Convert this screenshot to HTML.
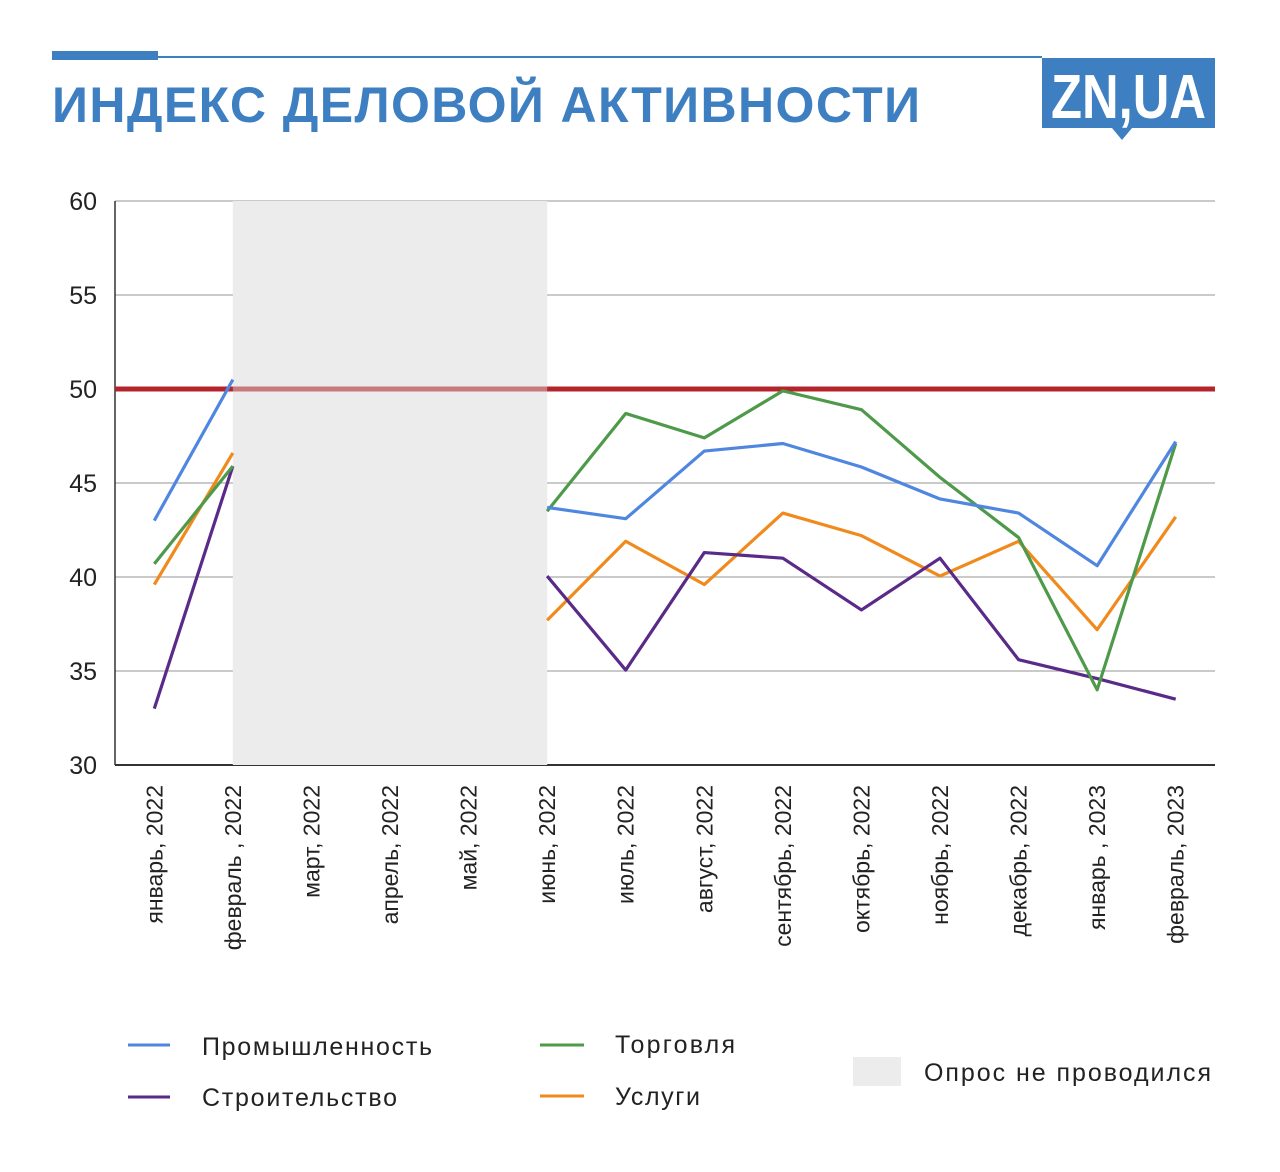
<!DOCTYPE html>
<html><head><meta charset="utf-8"><style>
body{margin:0;background:#fff;font-family:"Liberation Sans","DejaVu Sans",sans-serif}
svg text{font-family:"Liberation Sans","DejaVu Sans",sans-serif}
</style></head><body>
<svg id="c" width="1280" height="1167" xmlns="http://www.w3.org/2000/svg">
<rect x="52" y="51" width="106" height="9" fill="#3d7fc1"/>
<rect x="52" y="56" width="990" height="2" fill="#3d7fc1"/>
<text x="52" y="122" font-size="50" font-weight="bold" fill="#3d7fc1" textLength="868">ИНДЕКС ДЕЛОВОЙ АКТИВНОСТИ</text>
<g>
<rect x="1042" y="58" width="173" height="70" fill="#3d7fc1"/>
<polygon points="1112,128 1132,128 1122,140" fill="#3d7fc1"/>
<text x="1051" y="118" font-size="62" font-weight="bold" fill="#fff" textLength="155" lengthAdjust="spacingAndGlyphs">ZN,UA</text>
</g>
<g id="plot"></g>
<g>
<line x1="128" y1="1045" x2="170" y2="1045" stroke="#4f86e0" stroke-width="3"/><text x="202" y="1055" font-size="25" fill="#222" textLength="230">Промышленность</text>
<line x1="128" y1="1097" x2="170" y2="1097" stroke="#5a2a88" stroke-width="3"/><text x="202" y="1106" font-size="25" fill="#222" textLength="195">Строительство</text>
<line x1="540" y1="1045" x2="584" y2="1045" stroke="#4e9a4a" stroke-width="3"/><text x="615" y="1053" font-size="25" fill="#222" textLength="120">Торговля</text>
<line x1="540" y1="1096" x2="584" y2="1096" stroke="#f08a1c" stroke-width="3"/><text x="615" y="1105" font-size="25" fill="#222" textLength="85">Услуги</text>
<rect x="853" y="1057" width="48" height="29" fill="#ececec"/><text x="924" y="1081" font-size="25" fill="#222" textLength="287">Опрос не проводился</text>
</g>
</svg>
<script>
const categories=["январь, 2022","февраль , 2022","март, 2022","апрель, 2022","май, 2022","июнь, 2022","июль, 2022","август, 2022","сентябрь, 2022","октябрь, 2022","ноябрь, 2022","декабрь, 2022","январь , 2023","февраль, 2023"];
const industry=[43.0,50.5,null,null,null,43.7,43.1,46.7,47.1,45.85,44.15,43.4,40.6,47.2];
const trade=[40.7,45.9,null,null,null,43.5,48.7,47.4,49.9,48.9,45.3,42.1,34.0,47.1];
const construction=[33.0,45.9,null,null,null,40.05,35.05,41.3,41.0,38.25,41.0,35.6,34.6,33.5];
const services=[39.6,46.6,null,null,null,37.7,41.9,39.6,43.4,42.2,40.05,41.9,37.2,43.2];
const yTicks=[30,35,40,45,50,55,60];
const threshold=50;
const noSurveyFrom=1, noSurveyTo=5;
const L=115,R=1215,T=201,B=765,ymin=30,ymax=60;
const x=i=>L+(R-L)/categories.length*(i+0.5);
const y=v=>B-(v-ymin)/(ymax-ymin)*(B-T);
const NS="http://www.w3.org/2000/svg",g=document.getElementById('plot');
function mk(t,a){const e=document.createElementNS(NS,t);for(const k in a)e.setAttribute(k,a[k]);g.appendChild(e);return e;}
yTicks.forEach(v=>{
 const l=mk('line',{x1:L,x2:R,y1:y(v),y2:y(v),stroke:v==ymin?'#333':'#aaa','stroke-width':v==ymin?2:1.3});
 
 
 const t=mk('text',{x:97,y:y(v)+9,'font-size':25,fill:'#222','text-anchor':'end'});t.textContent=v;
 
 
});
const ax=mk('line',{x1:L,x2:L,y1:T,y2:B,stroke:'#333','stroke-width':1.5});


const th=mk('line',{x1:L,x2:R,y1:y(threshold),y2:y(threshold),stroke:'#b3252b','stroke-width':5});


const band=mk('rect',{x:x(noSurveyFrom),y:T,width:x(noSurveyTo)-x(noSurveyFrom),height:B-T,fill:'#e3e3e3','fill-opacity':0.45});


const band2=mk('rect',{x:x(noSurveyFrom),y:T,width:x(noSurveyTo)-x(noSurveyFrom),height:y(threshold)-T-2.5,fill:'#ececec'});


const band3=mk('rect',{x:x(noSurveyFrom),y:y(threshold)+2.5,width:x(noSurveyTo)-x(noSurveyFrom),height:B-y(threshold)-2.5,fill:'#ececec'});


categories.forEach((c,i)=>{
 const t=mk('text',{x:0,y:0,'font-size':23,fill:'#222','text-anchor':'end',transform:`translate(${x(i)+8},785) rotate(-90)`});t.textContent=c;
 
 
});
function series(arr,color,name){
 let segs=[],cur=[];
 arr.forEach((v,i)=>{if(v==null){if(cur.length)segs.push(cur);cur=[];}else cur.push(x(i)+','+y(v));});
 if(cur.length)segs.push(cur);
 segs.forEach(s=>{const p=mk('polyline',{points:s.join(' '),fill:'none',stroke:color,'stroke-width':3.2,'stroke-linejoin':'round'});
  
  });
}
series(services,'#f08a1c','services');
series(construction,'#5a2a88','construction');
series(trade,'#4e9a4a','trade');
series(industry,'#4f86e0','industry');
</script>
</body></html>
